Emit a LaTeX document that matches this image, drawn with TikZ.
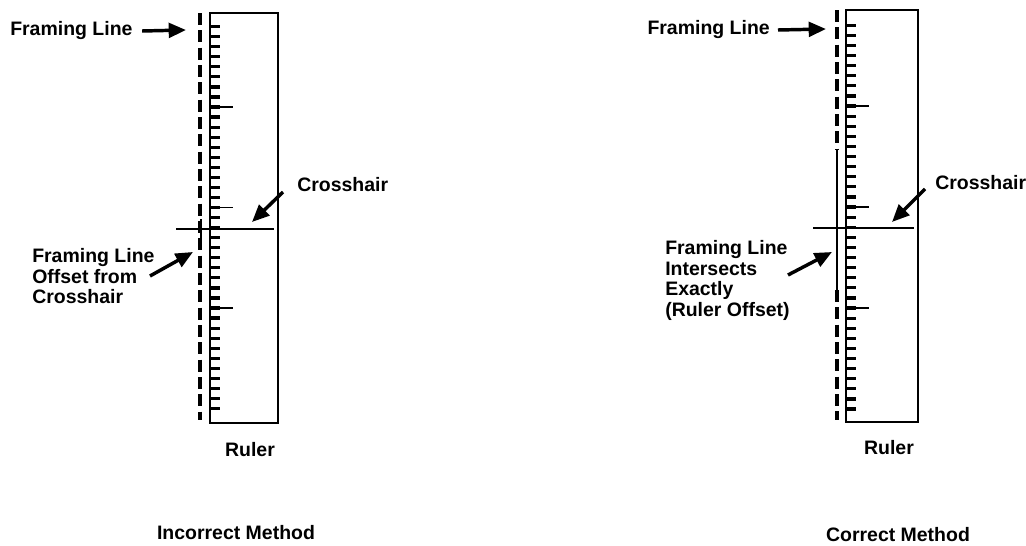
\documentclass[tikz,border=0pt]{standalone}
\usepackage{fontspec}
\setmainfont{Liberation Sans}
\usetikzlibrary{arrows.meta}
\begin{document}
\begin{tikzpicture}[x=0.75pt,y=-0.75pt,
  lbl/.style={font=\fontsize{14.6}{15.6}\selectfont\bfseries, inner sep=0pt, align=left},
  arr/.style={line width=2.6pt, -{Triangle[length=13pt,width=11pt]}},
  rulerbox/.style={line width=2pt},
  framedash/.style={line width=2.8pt, dash pattern=on 9pt off 4pt},
  framesolid/.style={line width=1.8pt},
  cross/.style={line width=1.8pt},
  smalltick/.style={line width=2.4pt},
  longtick/.style={line width=1.4pt}]
\useasboundingbox (0,0) rectangle (1026,546);

% ---------------- Left panel: Incorrect Method ----------------
\draw[rulerbox] (210,13) rectangle (278,423);
\foreach \k in {-8,...,30} \draw[smalltick] (210,{107+10.05*\k}) -- ++(10,0);
\foreach \k in {0,10,20} \draw[longtick] (210,{107+10.05*\k}) -- ++(23,0);
\draw[framedash] (200,13) -- (200,420);
\draw[cross] (176,229) -- (274,229);
\draw[cross] (201,219) -- (201,241);

\node[lbl, anchor=west] (flA) at (10,31) {Framing Line};
\coordinate (flAtip) at (186,30);
\draw[arr] ([xshift=7]flA.east) -- (flAtip);

\node[lbl, anchor=west] (chA) at (297,185) {Crosshair};
\coordinate (chAtip) at (252,222);
\draw[arr] ([shift={(-14,7)}]chA.west) -- (chAtip);

\node[lbl, anchor=north west] (offA) at (32,248) {Framing Line\\Offset from\\Crosshair};
\coordinate (offAtail) at (150,276);
\coordinate (offAtip) at (193,252);
\draw[arr] (offAtail) -- (offAtip);

\node[lbl] (rulA) at (250,450) {Ruler};
\node[lbl] (methA) at (236,533) {Incorrect Method};

% ---------------- Right panel: Correct Method ----------------
\draw[rulerbox] (846,10) rectangle (918,422);
\foreach \k in {-8,...,30} \draw[smalltick] (846,{106+10.1*\k}) -- ++(10,0);
\foreach \k in {0,10,20} \draw[longtick] (846,{106+10.1*\k}) -- ++(23,0);
\draw[framedash] (837,10) -- (837,150);
\draw[framesolid] (837,150) -- (837,290);
\draw[framedash] (837,290) -- (837,420);
\draw[cross] (813,228) -- (914,228);

\node[lbl, anchor=east] (flB) at (770,30) {Framing Line};
\coordinate (flBtip) at (826,29);
\draw[arr] ([xshift=6]flB.east) -- (flBtip);

\node[lbl, anchor=west] (chB) at (935,183) {Crosshair};
\coordinate (chBtip) at (892,222);
\draw[arr] ([shift={(-10,6)}]chB.west) -- (chBtip);

\node[lbl, anchor=north west] (intB) at (665,240) {Framing Line\\Intersects\\Exactly\\(Ruler Offset)};
\coordinate (intBtail) at (788,275);
\coordinate (intBtip) at (832,252);
\draw[arr] (intBtail) -- (intBtip);

\node[lbl] (rulB) at (889,448) {Ruler};
\node[lbl] (methB) at (898,535) {Correct Method};
\end{tikzpicture}
\end{document}
